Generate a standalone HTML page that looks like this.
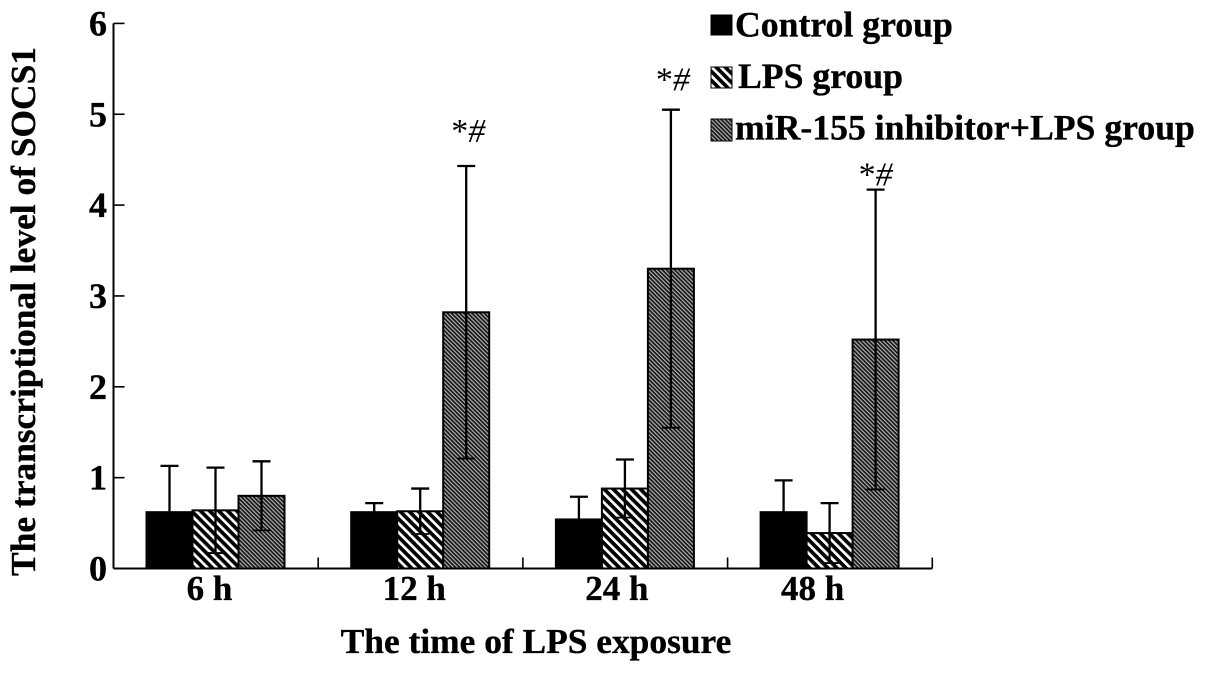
<!DOCTYPE html>
<html lang="en">
<head>
<meta charset="utf-8">
<title>The transcriptional level of SOCS1</title>
<style>
html,body{margin:0;padding:0;background:#fff;}
svg{display:block;}
text{font-family:"Liberation Serif",serif;fill:#000;}
.b{font-weight:bold;stroke:#000;stroke-width:0.35px;}
</style>
</head>
<body>
<svg id="chart" xmlns="http://www.w3.org/2000/svg" width="1205" height="673" viewBox="0 0 1205 673">
<defs>
<pattern id="lps-pat" patternUnits="userSpaceOnUse" width="6.4" height="6.4" patternTransform="rotate(-45)">
<rect width="6.4" height="6.4" fill="#000"/>
<rect x="0" y="0" width="2.7" height="6.4" fill="#fff"/>
</pattern>
<pattern id="mir-pat" patternUnits="userSpaceOnUse" width="2.9" height="2.9" patternTransform="rotate(-45)">
<rect width="2.9" height="2.9" fill="#161616"/>
<rect x="0" y="0" width="1.2" height="2.9" fill="#b0b0b0"/>
</pattern>
</defs>
<rect width="1205" height="673" fill="#fff"/>
<g id="plot"></g>
</svg>
<script>
const categories = ['6 h', '12 h', '24 h', '48 h'];
const seriesNames = ['Control group', 'LPS group', 'miR-155 inhibitor+LPS group'];
const controlValues = [0.62, 0.62, 0.54, 0.62];
const lpsValues = [0.64, 0.63, 0.88, 0.39];
const mirValues = [0.80, 2.82, 3.30, 2.52];
const controlErrors = [0.51, 0.10, 0.25, 0.35];
const lpsErrors = [0.47, 0.25, 0.32, 0.33];
const mirErrors = [0.38, 1.61, 1.75, 1.65];
const yTicks = [0, 1, 2, 3, 4, 5, 6];
const significance = ['', '*', '*', '*'];

const svg = document.getElementById('plot');
const NS = 'http://www.w3.org/2000/svg';
const x0 = 113.5, groupW = 204.7, y0 = 568.5, unit = 90.85, barW = 46, groupOffset = 33;
const fills = ['#000', 'url(#lps-pat)', 'url(#mir-pat)'];
const allValues = [controlValues, lpsValues, mirValues];
const allErrors = [controlErrors, lpsErrors, mirErrors];
function yScale(v) { return y0 - v * unit; }
function groupX(i) { return x0 + i * groupW; }
function barX(i, s) { return groupX(i) + groupOffset + s * barW; }
function make(tag, attrs, text) {
  const el = document.createElementNS(NS, tag);
  for (const k in attrs) el.setAttribute(k, attrs[k]);
  if (text !== undefined) el.textContent = text;
  svg.appendChild(el);
  return el;
}
function line(x1, y1, x2, y2, w) {
  return make('line', { x1: x1, y1: y1, x2: x2, y2: y2, stroke: '#000', 'stroke-width': w });
}

// Bars and error bars
allValues.forEach(function (vals, s) {
  vals.forEach(function (v, i) {
    const bx = barX(i, s);
    const r = make('rect', { x: bx, y: yScale(v), width: barW, height: y0 - yScale(v), fill: fills[s], stroke: '#000', 'stroke-width': 2 });
    
    
  });
});
allValues.forEach(function (vals, s) {
  vals.forEach(function (v, i) {
    const cx = barX(i, s) + barW / 2;
    const e = allErrors[s][i];
    const l = line(cx, yScale(v + e), cx, yScale(v - e), 2.3);
    
    
    const top = line(cx - 9, yScale(v + e), cx + 9, yScale(v + e), 2.3);
    
    
    const bot = line(cx - 9, yScale(v - e), cx + 9, yScale(v - e), 1.8);
    
    
  });
});

// Axes
const yAxis = line(x0, yScale(6), x0, y0, 2);


const xAxis = line(x0, y0, x0 + categories.length * groupW, y0, 2);


yTicks.forEach(function (t) {
  const tick = line(x0, yScale(t), x0 + 11, yScale(t), 1.6);
  
  
  const lab = make('text', { class: 'b', x: 107, y: yScale(t) + 12, 'font-size': 36, 'text-anchor': 'end' }, String(t));
  
  
});
categories.forEach(function (c, i) {
  const tick = line(groupX(i + 1), y0, groupX(i + 1), y0 - 11, 1.6);
  
  
  const nudge = i === 3 ? -11 : i === 2 ? -2 : 0;
  const lab = make('text', { class: 'b', x: groupX(i) + 96 + nudge, y: 600, 'font-size': 35, 'text-anchor': 'middle' }, c);
  
  
  if (significance[i]) {
    const top = mirValues[i] + mirErrors[i];
    const lift = i === 1 ? 24 : i === 2 ? 19 : 4;
    const sig = make('text', { x: barX(i, 2) + barW / 2 + (i === 3 ? 0 : 2), y: yScale(top) - lift, 'font-size': 34, 'text-anchor': 'middle' }, significance[i]);
    const hash = document.createElementNS(NS, 'tspan');
    hash.setAttribute('font-style', 'italic');
    hash.textContent = '#';
    sig.appendChild(hash);
    
    
  }
});

// Axis titles
const yTitle = make('text', { class: 'b', transform: 'translate(35,311.5) rotate(-90)', 'font-size': 35.4, 'text-anchor': 'middle' }, 'The transcriptional level of SOCS1');


const xTitle = make('text', { class: 'b', x: 536, y: 653, 'font-size': 35.4, 'text-anchor': 'middle' }, 'The time of LPS exposure');



// Legend
seriesNames.forEach(function (n, s) {
  const sw = make('rect', { x: 711, y: 15 + s * 52, width: 21, height: 20 + s, fill: fills[s], stroke: '#000', 'stroke-width': 1 });
  
  
  const t = make('text', { class: 'b', x: s === 1 ? 738 : 735, y: 36.5 + s * 51.5, 'font-size': 35.7 }, n);
  
  
});
</script>
</body>
</html>
